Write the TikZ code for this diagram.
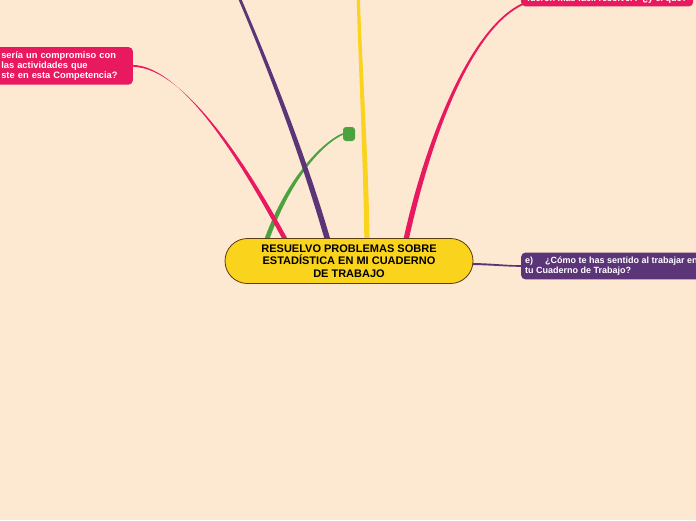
\documentclass[tikz,border=0pt]{standalone}
\usepackage{fontspec}
\newfontfamily\mmfont{Liberation Sans}
\usepackage{tikz}
\usetikzlibrary{calc}
\usetikzlibrary{positioning}
\definecolor{mm-peach}{HTML}{FDE8D1}
\definecolor{mm-magenta}{HTML}{E8195E}
\definecolor{mm-purple}{HTML}{5C3478}
\definecolor{mm-yellow}{HTML}{FAD31C}
\definecolor{mm-green}{HTML}{4BA33F}
\definecolor{mm-brown}{HTML}{5A3A10}
\pgfdeclarelayer{canvas}
\pgfdeclarelayer{branches}
\pgfsetlayers{canvas,branches,main}
% tapered branch: colour, start, control 1, control 2, end, half width at start, half width at end
\newcommand{\branch}[7]{%
    \fill[#1] ($(#2)+(#6)$) .. controls ($(#3)+(#6)$) and ($(#4)+(#7)$) .. ($(#5)+(#7)$)
        -- ($(#5)-(#7)$) .. controls ($(#4)-(#7)$) and ($(#3)-(#6)$) .. ($(#2)-(#6)$) -- cycle;}

\begin{document}
\begin{tikzpicture}[x=1pt, y=-1pt, font=\mmfont\bfseries]

    \useasboundingbox (0,0) rectangle (696,520);

    % canvas
    \begin{pgfonlayer}{canvas}
        \fill[mm-peach] (0,0) rectangle (696,520);
    \end{pgfonlayer}

    % central topic
    \node[draw=mm-brown, fill=mm-yellow, line width=0.8pt, rounded corners=22.5pt,
          minimum width=248pt, minimum height=45pt, inner sep=0pt, align=center,
          font=\mmfont\bfseries\fontsize{11}{12.3}\selectfont] (root) at (349,261)
        {RESUELVO PROBLEMAS SOBRE\\ESTADÍSTICA EN MI CUADERNO\\DE TRABAJO};

    % subtopics
    \begin{scope}[every node/.style={text=white, rounded corners=4pt, align=left,
                  font=\mmfont\bfseries\fontsize{9}{9.5}\selectfont}]
        \node[fill=mm-magenta, anchor=north east, text width=126.5pt,
              inner xsep=5pt, inner ysep=4.5pt,
              font=\mmfont\bfseries\fontsize{9.3}{9.8}\selectfont] (compromiso) at (133,47)
            {sería un compromiso con\\las actividades que\\ste en esta Competencia?};
        \node[fill=mm-magenta, anchor=south west, inner xsep=6pt, inner ysep=3pt] (facil) at (521,6.5)
            {fueron más fácil resolver? ¿y el qué?};
        \node[fill=mm-purple, anchor=west, inner xsep=4pt, inner ysep=4.3pt] (sentido) at (521,266)
            {e)\hspace{12pt}¿Cómo te has sentido al trabajar en\\tu Cuaderno de Trabajo?};
        \node[fill=mm-green, minimum width=12pt, minimum height=14pt, inner sep=0pt,
              rounded corners=3pt] (blank) at (349,134) {};
    \end{scope}

    % branches
    \begin{pgfonlayer}{branches}
        \coordinate (root-a) at ($(root.north)+(-84,6.5)$);
        \coordinate (root-b) at ($(root.north)+(-61,6.5)$);
        \coordinate (root-c) at ($(root.north)+(-20,6.5)$);
        \coordinate (root-d) at ($(root.north)+(18,6.5)$);
        \coordinate (root-e) at ($(root.north)+(56,6.5)$);
        \coordinate (root-f) at ($(root.east)+(-5,3)$);
        \coordinate (purple-out) at (236,-10);
        \coordinate (yellow-out) at (358,-10);
        \coordinate (facil-in) at ($(facil.south west)+(3,-3)$);

        \branch{mm-green}{root-a}{287,180}{322,143}{blank.west}{2.5,0}{0.3,0.8}
        \branch{mm-magenta}{root-b}{248,170}{185,67}{compromiso.east}{2.6,0}{0.6,1}
        \branch{mm-purple}{root-c}{302,150}{266,60}{purple-out}{2.9,0}{1.5,0}
        \branch{mm-yellow}{root-d}{366,160}{360,60}{yellow-out}{2.6,0}{1.6,0}
        \branch{mm-magenta}{root-e}{425,150}{468,28}{facil-in}{2.7,0}{0.4,0.8}
        \branch{mm-purple}{root-f}{490,264}{505,266}{sentido.west}{0,1}{0,0.8}
    \end{pgfonlayer}

\end{tikzpicture}
\end{document}
